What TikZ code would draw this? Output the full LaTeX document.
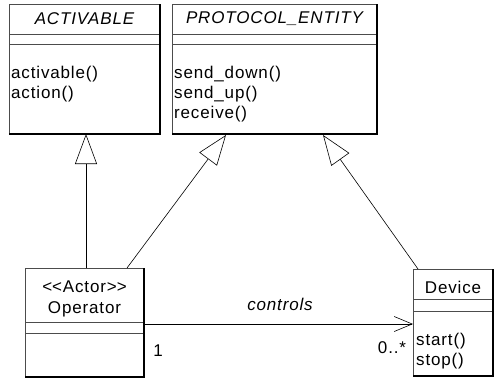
\documentclass[tikz,border=0pt]{standalone}
\usepackage{fontspec}
\setmainfont{Liberation Sans}[LetterSpace=5]
\usetikzlibrary{arrows.meta}
\newcommand\diagfs{\fontsize{17}{20}\selectfont}
\begin{document}
\begin{tikzpicture}[x=1pt,y=-1pt,
  box/.style={draw=black!70, line width=0.6pt, rectangle, anchor=north west,
    inner sep=0pt, outer sep=0pt},
  edge/.style={draw=black, line width=1.2pt},
  sep/.style={draw=black!70, line width=0.6pt},
  lbl/.style={inner sep=0pt, font=\diagfs},
  ilbl/.style={inner sep=0pt, font=\diagfs\itshape},
  op/.style={inner sep=0pt, font=\diagfs, anchor=west},
  gen/.style={draw=black, line width=0.6pt,
    -{Triangle[open, length=30pt, width=22pt, line width=0.6pt]}},
  assoc/.style={draw=black, line width=0.6pt,
    -{Straight Barb[length=18pt, width=15pt, line width=0.6pt]}}
]
\useasboundingbox (0,0) rectangle (495,380);

% ACTIVABLE
\node[box, minimum width=151pt, minimum height=130pt] (act) at (9,4) {};
\draw[sep] (act.west |- 0,34) -- (act.east |- 0,34);
\draw[sep] (act.west |- 0,44) -- (act.east |- 0,44);
\draw[edge] (act.north east) -- (act.south east) -- (act.south west);
\node[ilbl] (actn) at (84.5,19) {ACTIVABLE};
\node[op] (act1) at (11,74) {activable()};
\node[op] (act2) at (11,94) {action()};

% PROTOCOL_ENTITY
\node[box, minimum width=205pt, minimum height=130pt] (pe) at (172,4) {};
\draw[sep] (pe.west |- 0,34) -- (pe.east |- 0,34);
\draw[sep] (pe.west |- 0,44) -- (pe.east |- 0,44);
\draw[edge] (pe.north east) -- (pe.south east) -- (pe.south west);
\node[ilbl] (pen) at (274.5,19) {PROTOCOL\_ENTITY};
\node[op] (pe1) at (174,74) {send\_down()};
\node[op] (pe2) at (174,94) {send\_up()};
\node[op] (pe3) at (174,114) {receive()};

% Operator
\node[box, minimum width=119pt, minimum height=109pt] (opr) at (25,268) {};
\draw[sep] (opr.west |- 0,322) -- (opr.east |- 0,322);
\draw[sep] (opr.west |- 0,333) -- (opr.east |- 0,333);
\draw[edge] (opr.north east) -- (opr.south east) -- (opr.south west);
\node[lbl] (oprs) at (84.5,287) {<\kern0pt<Actor>\kern0pt>};
\node[lbl] (oprn) at (84.5,309) {Operator};

% Device
\node[box, minimum width=80pt, minimum height=107pt] (dev) at (413,269) {};
\draw[sep] (dev.west |- 0,299) -- (dev.east |- 0,299);
\draw[sep] (dev.west |- 0,311) -- (dev.east |- 0,311);
\draw[edge] (dev.north east) -- (dev.south east) -- (dev.south west);
\node[lbl] (devn) at (453,287) {Device};
\node[op] (dev1) at (416,341) {start()};
\node[op] (dev2) at (416,361) {stop()};

% generalizations
\coordinate (g1s) at (86,268);
\coordinate (g1e) at (86,134);
\draw[gen] (g1s) -- (g1e);
\coordinate (g2s) at (127,268);
\coordinate (g2e) at (226,135);
\draw[gen] (g2s) -- (g2e);
\coordinate (g3s) at (418,269);
\coordinate (g3e) at (323,135);
\draw[gen] (g3s) -- (g3e);

% association
\coordinate (as) at (144,324);
\coordinate (ae) at (413,324);
\draw[assoc] (as) -- (ae);
\node[ilbl] (ctl) at (280,304) {controls};
\node[lbl] (m1) at (158,351) {1};
\node[lbl] (m2) at (392,348) {0..*};
\end{tikzpicture}
\end{document}
